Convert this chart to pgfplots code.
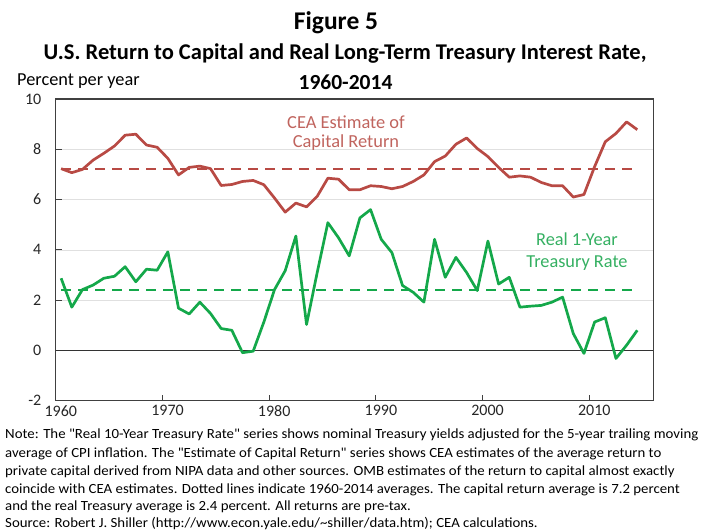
\documentclass[border=0pt]{standalone}
\usepackage{pgfplots}
\pgfplotsset{compat=1.18}
\usepackage{pgfplotstable}
\usepackage{graphicx}
\usepackage{fontspec}
\setmainfont{Carlito}
\definecolor{capred}{HTML}{B84A44}
\definecolor{capredtxt}{HTML}{C0645E}
\definecolor{tgreen}{HTML}{14A84A}
\definecolor{tgreentxt}{HTML}{35B062}

\pgfplotstableread{
year cap tr
1960 7.23 2.87
1961 7.07 1.72
1962 7.20 2.42
1963 7.57 2.60
1964 7.84 2.87
1965 8.13 2.95
1966 8.56 3.33
1967 8.60 2.73
1968 8.17 3.23
1969 8.08 3.19
1970 7.64 3.92
1971 6.98 1.68
1972 7.28 1.45
1973 7.33 1.92
1974 7.23 1.47
1975 6.56 0.87
1976 6.60 0.80
1977 6.72 -0.09
1978 6.76 -0.03
1979 6.59 1.13
1980 6.06 2.42
1981 5.50 3.17
1982 5.86 4.55
1983 5.71 1.03
1984 6.13 3.10
1985 6.85 5.08
1986 6.81 4.48
1987 6.39 3.76
1988 6.39 5.27
1989 6.55 5.60
1990 6.52 4.42
1991 6.43 3.89
1992 6.52 2.58
1993 6.72 2.31
1994 6.98 1.92
1995 7.51 4.42
1996 7.73 2.91
1997 8.20 3.70
1998 8.45 3.10
1999 8.03 2.38
2000 7.71 4.35
2001 7.28 2.64
2002 6.89 2.91
2003 6.94 1.72
2004 6.89 1.76
2005 6.68 1.79
2006 6.55 1.92
2007 6.55 2.12
2008 6.10 0.67
2009 6.20 -0.12
2010 7.31 1.13
2011 8.30 1.30
2012 8.63 -0.32
2013 9.09 0.21
2014 8.78 0.80
}\datatable

\pgfplotstableread{
x cap tr
1960.5 7.2 2.4
2014.5 7.2 2.4
}\avgtable

\begin{document}
\begin{tikzpicture}
\useasboundingbox (0pt,0pt) rectangle (706pt,531pt);
\begin{axis}[
  at={(55.8pt,130.3pt)}, anchor=south west, scale only axis,
  width=597.5pt, height=301.7pt,
  xmin=1960, xmax=2016, ymin=-2, ymax=10,
  xtick={1960,1970,...,2010}, ytick={-2,0,...,10},
  ymajorgrids, grid style={black!12, line width=0.6pt},
  axis line style={black!75, line width=1.1pt},
  tick style={black!75, line width=0.9pt},
  tick align=inside, major tick length=6pt,
  xtick pos=bottom, ytick pos=left,
  /pgf/number format/assume math mode=true,
  /pgf/number format/1000 sep={},
  ticklabel style={font=\fontsize{16}{16}\selectfont, text=black!85},
  yticklabel style={xshift=-11pt},
  xticklabel style={xshift=5pt, yshift=-1pt},
  clip=false,
]
\addplot[draw=black!80, line width=1.1pt, forget plot] coordinates {(1960,0) (2016,0)};
\addplot[draw=capred, line width=2pt, dash pattern=on 10pt off 7pt] table[x=x, y=cap] {\avgtable};
\addplot[draw=tgreen, line width=2pt, dash pattern=on 10pt off 7pt] table[x=x, y=tr] {\avgtable};
\addplot[draw=capred, line width=2.7pt, line join=round] table[x expr=\thisrow{year}+0.5, y=cap] {\datatable};
\addplot[draw=tgreen, line width=2.7pt, line join=round] table[x expr=\thisrow{year}+0.5, y=tr] {\datatable};
\end{axis}

% titles
\node[font=\bfseries\fontsize{25.5}{25.5}\selectfont] at (336pt,508pt) {Figure 5};
\node[font=\bfseries\fontsize{22.5}{22.5}\selectfont] at (345pt,477pt) {U.S. Return to Capital and Real Long-Term Treasury Interest Rate,};
\node[font=\bfseries\fontsize{21.5}{21.5}\selectfont] at (345.5pt,449pt) {1960-2014};
\node[anchor=west, font=\fontsize{18.3}{18.3}\selectfont, inner sep=0pt] at (17pt,450pt) {Percent per year};

% series annotations
\node[text=capredtxt, font=\fontsize{18.4}{18.4}\selectfont] at (346pt,409pt) {CEA Estimate of};
\node[text=capredtxt, font=\fontsize{18.4}{18.4}\selectfont] at (346pt,388pt) {Capital Return};
\node[text=tgreentxt, font=\fontsize{18.3}{18.3}\selectfont] at (577pt,291.7pt) {Real 1-Year};
\node[text=tgreentxt, font=\fontsize{18.3}{18.3}\selectfont] at (577pt,268.3pt) {Treasury Rate};

% notes
\begin{scope}[every node/.style={anchor=west, inner sep=0pt, font=\fontsize{14}{14}\selectfont}]
\node at (5pt,96pt) {\scalebox{1.06}[1]{Note: The \textquotedbl Real 10-Year Treasury Rate\textquotedbl{} series shows nominal Treasury yields adjusted for the 5-year trailing moving}};
\node at (5pt,77pt) {\scalebox{1.06}[1]{average of CPI inflation. The \textquotedbl Estimate of Capital Return\textquotedbl{} series shows CEA estimates of the average return to}};
\node at (5pt,59pt) {\scalebox{1.06}[1]{private capital derived from NIPA data and other sources. OMB estimates of the return to capital almost exactly}};
\node at (5pt,41pt) {\scalebox{1.06}[1]{coincide with CEA estimates. Dotted lines indicate 1960-2014 averages. The capital return average is 7.2 percent}};
\node at (5pt,24pt) {\scalebox{1.06}[1]{and the real Treasury average is 2.4 percent. All returns are pre-tax.}};
\node at (5pt,7pt) {\scalebox{1.06}[1]{Source: Robert J. Shiller (http://www.econ.yale.edu/\textasciitilde shiller/data.htm); CEA calculations.}};
\end{scope}
\end{tikzpicture}
\end{document}
